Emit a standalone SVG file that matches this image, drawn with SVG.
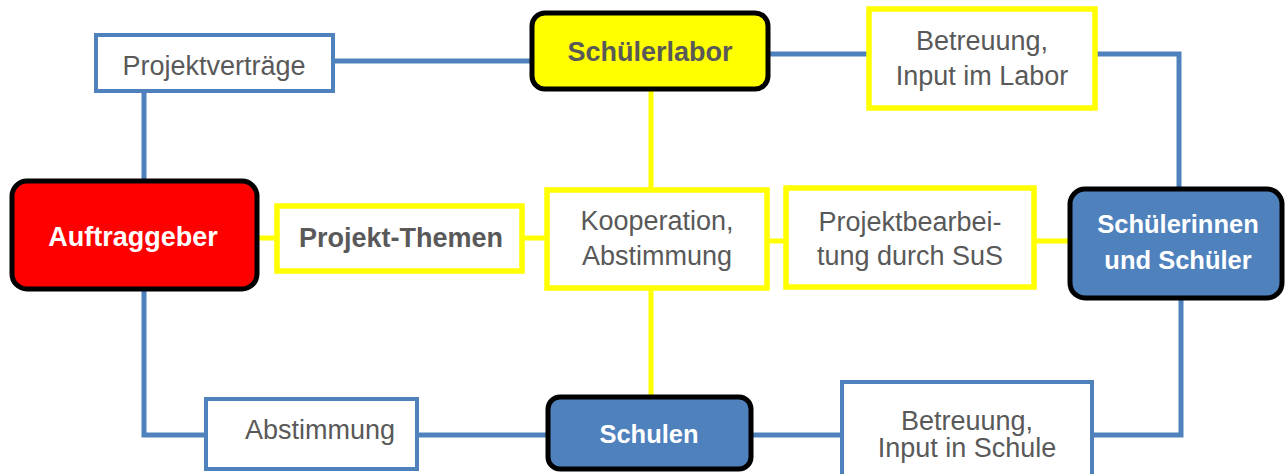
<svg xmlns="http://www.w3.org/2000/svg" width="1285" height="474" viewBox="0 0 1285 474">
<style>
.bl{fill:none;stroke:#4F81BD;stroke-width:5;stroke-linejoin:miter}
.yl{fill:none;stroke:#FFFF00;stroke-width:5}
.bbox{fill:#FFFFFF;stroke:#4F81BD;stroke-width:4}
.ybox{fill:#FFFFFF;stroke:#FFFF00;stroke-width:5.5}
.main{stroke:#000000;stroke-width:5}
text{font-family:"Liberation Sans",Arial,sans-serif;font-size:27px;text-anchor:middle}
.t{fill:#595959}
.b{font-weight:bold}
.w{fill:#FFFFFF}
.s{font-size:25.5px}
</style>
<g id="connectors">
<polyline class="bl" points="333,61 532,61"/>
<polyline class="bl" points="144,91 144,180"/>
<polyline class="bl" points="768,54 869,54"/>
<polyline class="bl" points="1095,54 1179,54 1179,187"/>
<polyline class="bl" points="1181,299 1181,435 1092,435"/>
<polyline class="bl" points="752,435 842,435"/>
<polyline class="bl" points="144,290 144,435 206,435"/>
<polyline class="bl" points="417,435 547,435"/>
<polyline class="yl" points="258,238 276,238"/>
<polyline class="yl" points="522,238 547,238"/>
<polyline class="yl" points="651,89 651,190"/>
<polyline class="yl" points="651,288 651,396"/>
<polyline class="yl" points="767,241 786,241"/>
<polyline class="yl" points="1034,241 1068,241"/>
</g>
<g id="projektvertraege">
<rect class="bbox" x="96" y="35" width="237" height="56"/>
<text class="t" x="214" y="75">Projektverträge</text>
</g>
<g id="schuelerlabor">
<rect class="main" x="532" y="13" width="236" height="76" rx="13" fill="#FFFF00"/>
<text class="t b" x="650" y="61">Schülerlabor</text>
</g>
<g id="betreuung-labor">
<rect class="ybox" x="869" y="9" width="226" height="99"/>
<text class="t" x="982" y="50">Betreuung,</text>
<text class="t" x="982" y="85">Input im Labor</text>
</g>
<g id="auftraggeber">
<rect class="main" x="12" y="181" width="245" height="108" rx="15" fill="#FF0000"/>
<text class="w b" x="133" y="246">Auftraggeber</text>
</g>
<g id="projekt-themen">
<rect class="ybox" x="277" y="206" width="245" height="65"/>
<text class="t b" x="401" y="247">Projekt-Themen</text>
</g>
<g id="kooperation">
<rect class="ybox" x="547" y="190" width="220" height="98"/>
<text class="t" x="657" y="230">Kooperation,</text>
<text class="t" x="657" y="265">Abstimmung</text>
</g>
<g id="projektbearbeitung">
<rect class="ybox" x="786" y="188" width="248" height="99"/>
<text class="t" x="910" y="231">Projektbearbei-</text>
<text class="t" x="910" y="265">tung durch SuS</text>
</g>
<g id="schuelerinnen">
<rect class="main" x="1070" y="189" width="212" height="109" rx="15" fill="#4F81BD"/>
<text class="w b s" x="1178" y="233">Schülerinnen</text>
<text class="w b s" x="1178" y="269">und Schüler</text>
</g>
<g id="abstimmung">
<rect class="bbox" x="206" y="399" width="211" height="70"/>
<text class="t" x="320" y="439">Abstimmung</text>
</g>
<g id="schulen">
<rect class="main" x="548" y="397" width="203" height="72" rx="12" fill="#4F81BD"/>
<text class="w b s" x="649" y="443">Schulen</text>
</g>
<g id="betreuung-schule">
<rect class="bbox" x="842" y="382" width="250" height="100"/>
<text class="t" x="967" y="430">Betreuung,</text>
<text class="t" x="967" y="457">Input in Schule</text>
</g>
</svg>
